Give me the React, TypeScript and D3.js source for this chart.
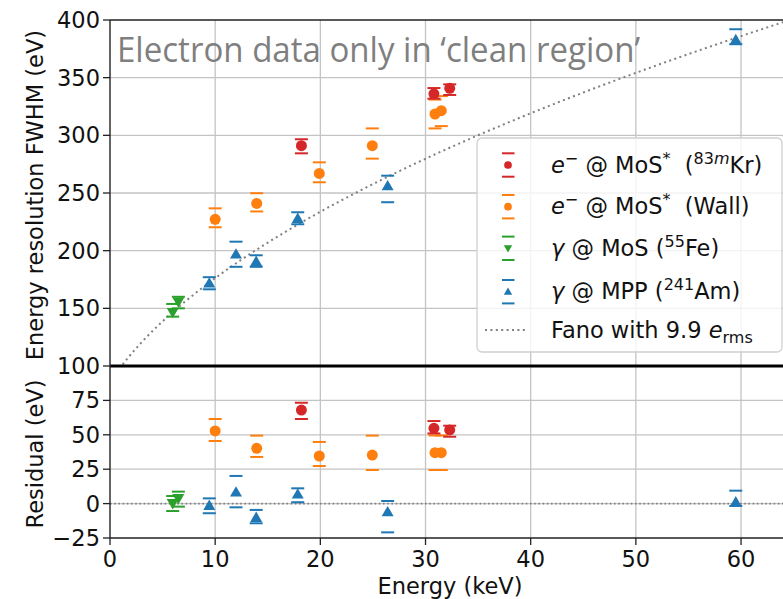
import React from 'react';
import * as d3 from 'd3';

// ---------- data ----------
const xTicks = [0, 10, 20, 30, 40, 50, 60];
const yTopTicks = [100, 150, 200, 250, 300, 350, 400];
const yResTicks = [-25, 0, 25, 50, 75];

// e- @ MoS* (83mKr)
const krE = [18.2, 30.8, 32.3];
const krVal = [291, 336, 340.8];
const krLow = [284.4, 331.8, 335];
const krHigh = [296.6, 341, 344.2];
const krRes = [68, 54.7, 53.5];
const krResLow = [61.5, 51, 48.6];
const krResHigh = [73.3, 60, 56.6];

// e- @ MoS* (Wall)
const wallE = [10.0, 13.95, 19.9, 24.94, 30.9, 31.5];
const wallVal = [227.2, 241, 267, 291, 318.5, 321.4];
const wallLow = [220.3, 234, 259.3, 279.8, 306, 308];
const wallHigh = [236.7, 249.8, 276.6, 306, 331, 334];
const wallRes = [52.8, 40.2, 34.6, 35.3, 37, 37];
const wallResLow = [45.5, 33.9, 27.3, 24.4, 24.4, 24.4];
const wallResHigh = [61.5, 49.4, 44.8, 49.4, 49.5, 49.5];

// gamma @ MoS (55Fe)
const feE = [5.96, 6.5];
const feVal = [146.6, 155.8];
const feLow = [142.8, 150];
const feHigh = [153.8, 160];
const feRes = [0.2, 3.8];
const feResLow = [-5.4, -2.2];
const feResHigh = [5.5, 8.7];

// gamma @ MPP (241Am)
const amE = [9.44, 11.98, 13.9, 17.85, 26.4, 59.5];
const amVal = [171.7, 196.9, 190.5, 227.7, 256, 382.7];
const amLow = [166.5, 186, 186, 222.9, 242, 379];
const amHigh = [177, 207.8, 196, 233.3, 265, 392];
const amRes = [-1.5, 8.2, -10.2, 6.8, -6.1, 1];
const amResLow = [-7, -2.7, -14.3, 1, -20.9, -1.7];
const amResHigh = [3.8, 20.1, -4.6, 11.1, 1.9, 9.4];

// Fano model parameters (legend: 9.9 e_rms)
const fanoSigma = 9.9;
const fanoW = 3.7; // eV per e-h pair
const fanoF = 0.115;

// ---------- layout ----------
const W = 783, H = 599;
const left = 110, right = 783.1, top = 20, mid = 366, bottom = 538;
const x = d3.scaleLinear().domain([0, 64]).range([left, right]);
const yTop = d3.scaleLinear().domain([100, 400]).range([mid, top]);
const yRes = d3.scaleLinear().domain([-25, 100]).range([bottom, mid]);

const RED = '#d62728', ORANGE = '#ff7f0e', GREEN = '#2ca02c', BLUE = '#1f77b4';
const FONT = '"DejaVu Sans", sans-serif';
const FS = 22.5;

type Marker = 'circle' | 'down' | 'up';
interface Series { e: number[]; val: number[]; low: number[]; high: number[]; res: number[]; resLow: number[]; resHigh: number[]; color: string; marker: Marker; }

const series: Series[] = [
  { e: amE, val: amVal, low: amLow, high: amHigh, res: amRes, resLow: amResLow, resHigh: amResHigh, color: BLUE, marker: 'up' },
  { e: feE, val: feVal, low: feLow, high: feHigh, res: feRes, resLow: feResLow, resHigh: feResHigh, color: GREEN, marker: 'down' },
  { e: wallE, val: wallVal, low: wallLow, high: wallHigh, res: wallRes, resLow: wallResLow, resHigh: wallResHigh, color: ORANGE, marker: 'circle' },
  { e: krE, val: krVal, low: krLow, high: krHigh, res: krRes, resLow: krResLow, resHigh: krResHigh, color: RED, marker: 'circle' },
];

const symPath = (m: Marker, scale = 1) => {
  if (m === 'circle') return d3.symbol().type(d3.symbolCircle).size(95 * scale * scale)()!;
  return d3.symbol().type(d3.symbolTriangle).size(62 * scale * scale)()!;
};

function MarkerMark({ m, cx, cy, color, scale = 1 }: { m: Marker; cx: number; cy: number; color: string; scale?: number }) {
  const rot = m === 'down' ? 180 : 0;
  const dy = m === 'circle' ? 0 : (m === 'up' ? 1 : -1) * 0.8 * scale;
  return <path d={symPath(m, scale)} transform={`translate(${cx},${cy + dy}) rotate(${rot})`} fill={color} />;
}

function ErrPoint({ cx, cy, lo, hi, color, m }: { cx: number; cy: number; lo: number; hi: number; color: string; m: Marker }) {
  const cw = 6.5;
  return (
    <g>
      <line x1={cx - cw} x2={cx + cw} y1={lo} y2={lo} stroke={color} strokeWidth={2} />
      <line x1={cx - cw} x2={cx + cw} y1={hi} y2={hi} stroke={color} strokeWidth={2} />
      <MarkerMark m={m} cx={cx} cy={cy} color={color} />
    </g>
  );
}

export default function App() {
  const fanoE = d3.range(0, 64.01, 0.25);
  const fano = fanoE.map((e) => 2.355 * fanoW * Math.sqrt(fanoSigma * fanoSigma + (fanoF * e * 1000) / fanoW));
  const fanoLine = d3.line<number>().x((_, i) => x(fanoE[i])).y((v) => yTop(v))(fano)!;

  const gridColor = '#c4c4c4';
  const sup = { fontSize: 16 } as const;
  const up = -9;

  const legendRows: { y: number; label: React.ReactNode; color?: string; m?: Marker }[] = [
    {
      y: 165, color: RED, m: 'circle',
      label: (<>
        <tspan fontStyle="italic">e</tspan><tspan dy={up} {...sup}>−</tspan><tspan dy={-up}> @ MoS</tspan><tspan dy={up} {...sup}>*</tspan><tspan dy={-up}>  (</tspan><tspan dy={up} {...sup}>83</tspan><tspan {...sup} fontStyle="italic">m</tspan><tspan dy={-up}>Kr)</tspan>
      </>),
    },
    {
      y: 206.7, color: ORANGE, m: 'circle',
      label: (<>
        <tspan fontStyle="italic">e</tspan><tspan dy={up} {...sup}>−</tspan><tspan dy={-up}> @ MoS</tspan><tspan dy={up} {...sup}>*</tspan><tspan dy={-up}>  (Wall)</tspan>
      </>),
    },
    {
      y: 248.3, color: GREEN, m: 'down',
      label: (<>
        <tspan fontStyle="italic">γ</tspan><tspan> @ MoS (</tspan><tspan dy={up} {...sup}>55</tspan><tspan dy={-up}>Fe)</tspan>
      </>),
    },
    {
      y: 291.7, color: BLUE, m: 'up',
      label: (<>
        <tspan fontStyle="italic">γ</tspan><tspan> @ MPP (</tspan><tspan dy={up} {...sup}>241</tspan><tspan dy={-up}>Am)</tspan>
      </>),
    },
    {
      y: 330,
      label: (<>
        <tspan>Fano with 9.9 </tspan><tspan fontStyle="italic">e</tspan><tspan dy={5} {...sup}>rms</tspan>
      </>),
    },
  ];

  return (
    <div style={{ position: 'absolute', left: 0, top: 0 }}>
      <svg width={W} height={H} viewBox={`0 0 ${W} ${H}`} style={{ display: 'block', background: '#fff' }}>
        <defs>
          <clipPath id="topClip"><rect x={left} y={top} width={right - left} height={mid - top} /></clipPath>
          <clipPath id="resClip"><rect x={left} y={mid} width={right - left} height={bottom - mid} /></clipPath>
        </defs>

        {/* grid */}
        {xTicks.filter((t) => t > 0).map((t) => (
          <line key={'gx' + t} x1={x(t)} x2={x(t)} y1={top} y2={bottom} stroke={gridColor} strokeWidth={1.3} />
        ))}
        {yTopTicks.filter((t) => t > 100 && t < 400).map((t) => (
          <line key={'gyt' + t} x1={left} x2={W} y1={yTop(t)} y2={yTop(t)} stroke={gridColor} strokeWidth={1.3} />
        ))}
        {yResTicks.filter((t) => t > -25).map((t) => (
          <line key={'gyr' + t} x1={left} x2={W} y1={yRes(t)} y2={yRes(t)} stroke={gridColor} strokeWidth={1.3} />
        ))}

        {/* Fano curve */}
        <path d={fanoLine} clipPath="url(#topClip)" fill="none" stroke="#808080" strokeWidth={2} strokeDasharray="2,3.4" />
        {/* residual zero line */}
        <line x1={left} x2={W} y1={yRes(0)} y2={yRes(0)} stroke="#808080" strokeWidth={1.6} strokeDasharray="1.6,2.6" />

        {/* data top */}
        <g clipPath="url(#topClip)">
          {series.map((s, si) => s.e.map((e, i) => (
            <ErrPoint key={`t${si}-${i}`} cx={x(e)} cy={yTop(s.val[i])} lo={yTop(s.low[i])} hi={yTop(s.high[i])} color={s.color} m={s.marker} />
          )))}
        </g>
        {/* data residual */}
        <g clipPath="url(#resClip)">
          {series.map((s, si) => s.e.map((e, i) => (
            <ErrPoint key={`r${si}-${i}`} cx={x(e)} cy={yRes(s.res[i])} lo={yRes(s.resLow[i])} hi={yRes(s.resHigh[i])} color={s.color} m={s.marker} />
          )))}
        </g>

        {/* spines */}
        <line x1={left} x2={W} y1={top} y2={top} stroke="#222" strokeWidth={1.4} />
        <line x1={left} x2={W} y1={mid} y2={mid} stroke="#000" strokeWidth={3} />
        <line x1={left} x2={W} y1={bottom} y2={bottom} stroke="#222" strokeWidth={1.4} />
        <line x1={left} x2={left} y1={top} y2={bottom} stroke="#222" strokeWidth={1.4} />

        {/* ticks */}
        <g fontFamily={FONT} fontSize={FS} fill="#111">
          {yTopTicks.map((t) => (
            <g key={'yt' + t}>
              <line x1={left - 7} x2={left} y1={yTop(t)} y2={yTop(t)} stroke="#222" strokeWidth={1.3} />
              <text x={left - 10} y={yTop(t) + 8} textAnchor="end">{t}</text>
            </g>
          ))}
          {yResTicks.map((t) => (
            <g key={'yr' + t}>
              <line x1={left - 7} x2={left} y1={yRes(t)} y2={yRes(t)} stroke="#222" strokeWidth={1.3} />
              <text x={left - 10} y={yRes(t) + 8} textAnchor="end">{t < 0 ? '−' + Math.abs(t) : t}</text>
            </g>
          ))}
          {xTicks.map((t) => (
            <g key={'xt' + t}>
              <line x1={x(t)} x2={x(t)} y1={bottom} y2={bottom + 7} stroke="#222" strokeWidth={1.3} />
              <text x={x(t)} y={567} textAnchor="middle">{t}</text>
            </g>
          ))}
          <text x={450} y={594} textAnchor="middle">Energy (keV)</text>
          <text transform={`translate(43,${(top + mid) / 2 + 2}) rotate(-90)`} textAnchor="middle">Energy resolution FWHM (eV)</text>
          <text transform={`translate(43,${(mid + bottom) / 2 + 2}) rotate(-90)`} textAnchor="middle">Residual (eV)</text>
        </g>

        {/* legend */}
        <g>
          <rect x={477} y={138} width={305} height={214} rx={5} fill="#fff" fillOpacity={0.8} stroke="#d0d0d0" strokeWidth={1.3} />
          {legendRows.map((r, i) => (
            <g key={'lg' + i}>
              {r.color ? (
                <g>
                  <line x1={502} x2={514.5} y1={r.y - 11.7} y2={r.y - 11.7} stroke={r.color} strokeWidth={2} />
                  <line x1={502} x2={514.5} y1={r.y + 11.7} y2={r.y + 11.7} stroke={r.color} strokeWidth={2} />
                  <MarkerMark m={r.m!} cx={508} cy={r.y} color={r.color} scale={0.7} />
                </g>
              ) : (
                <line x1={485} x2={528} y1={r.y} y2={r.y} stroke="#808080" strokeWidth={2} strokeDasharray="2,3.4" />
              )}
              <text x={551} y={r.y + 7.5} fontFamily={FONT} fontSize={FS} fill="#111" style={{ whiteSpace: 'pre' }}>{r.label}</text>
            </g>
          ))}
        </g>

        {/* overlay annotation */}
        <text x={117} y={62} fontFamily='"Open Sans", sans-serif' fontSize={35} fill="#7f7f7f" textLength={523} lengthAdjust="spacingAndGlyphs">
          Electron data only in ‘clean region’
        </text>
      </svg>
    </div>
  );
}
